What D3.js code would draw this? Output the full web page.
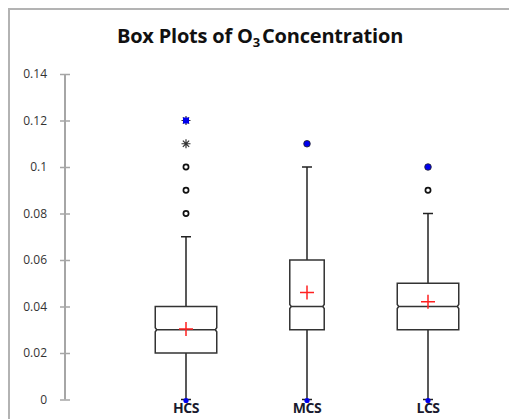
<!DOCTYPE html>
<html>
<head>
<meta charset="utf-8">
<script src="https://cdn.jsdelivr.net/npm/d3@7"></script>
<style>
  body { margin: 0; background: #fff; }
  svg { display: block; }
</style>
</head>
<body>
<script>
// box plot summary values
let categories = ['HCS', 'MCS', 'LCS']
let q1 = [0.02, 0.03, 0.03]
let medians = [0.03, 0.04, 0.04]
let q3 = [0.04, 0.06, 0.05]
let whisk_lo = [0, 0, 0]
let whisk_hi = [0.07, 0.10, 0.08]
let means = [0.0303, 0.046, 0.042]
let mins = [0, 0, 0]
let maxs = [0.12, 0.11, 0.10]
let max_kind = ['star', 'circle', 'circle']
let box_rel_width = [1, 0.56, 1]
// outliers: circles are mild, stars are extreme
let outliers = [
  { cat: 'HCS', value: 0.08, kind: 'circle' },
  { cat: 'HCS', value: 0.09, kind: 'circle' },
  { cat: 'HCS', value: 0.10, kind: 'circle' },
  { cat: 'HCS', value: 0.11, kind: 'star' },
  { cat: 'LCS', value: 0.09, kind: 'circle' },
]
let y_ticks = [0, 0.02, 0.04, 0.06, 0.08, 0.1, 0.12, 0.14]

let width = 509, height = 419

let boxes = categories.map((c, i) => ({
  name: c, q1: q1[i], med: medians[i], q3: q3[i], lo: whisk_lo[i], hi: whisk_hi[i],
  mean: means[i], min: mins[i], max: maxs[i], maxKind: max_kind[i], rel: box_rel_width[i]
}))

const svg = d3.select('body').append('svg')
    .attr('width', width)
    .attr('height', height)

// frame of the chart area (right and bottom lie outside the crop)
svg.append('path')
    .attr('d', 'M9,430V9H520')
    .attr('fill', 'none')
    .attr('stroke', '#b3b3b3')
    .attr('stroke-width', 2)

let x = d3.scaleBand()
    .domain(categories)
    .range([125.5, 488.5])

let y = d3.scaleLinear()
    .domain([0, 0.14])
    .range([399.5, 74])

let full_w = 61.5
let cx = d => x(d) + x.bandwidth() / 2

// title
let title = svg.append('text')
    .attr('x', 260)
    .attr('y', 43)
    .attr('text-anchor', 'middle')
    .style('font-family', '"Open Sans", sans-serif')
    .style('font-weight', 'bold')
    .style('font-size', '20px')
    .style('letter-spacing', '-0.2px')
    .attr('fill', '#111')
title.append('tspan').text('Box Plots of O')
title.append('tspan').text('3').attr('dy', 4).style('font-size', '13px')
title.append('tspan').text('Concentration').attr('dy', -4).attr('dx', 2)

// y axis
let yAxis = g => g
    .attr('transform', 'translate(65,0)')
    .call(d3.axisLeft(y).tickValues(y_ticks).tickSize(5).tickPadding(13)
      .tickFormat(d => d === 0 ? '0' : String(Math.round(d * 100) / 100)))
    .call(g => g.selectAll('.tick line').attr('x2', 5).attr('x1', -5).attr('stroke', '#a6a6a6').attr('stroke-width', 1.5))
    .call(g => g.select('.domain').attr('d', `M0,${y(0)}V${y(0.14)}`).attr('stroke', '#a6a6a6').attr('stroke-width', 2))
    .call(g => g.selectAll('text')
      .style('font-family', '"Open Sans", sans-serif')
      .style('font-size', '12px')
      .attr('fill', '#333'))

svg.append('g').call(yAxis)

// whiskers
let wg = svg.append('g').attr('stroke', '#222').attr('stroke-width', 1.5)
wg.selectAll('line.up').data(boxes).join('line')
    .attr('x1', d => cx(d.name)).attr('x2', d => cx(d.name))
    .attr('y1', d => y(d.q3)).attr('y2', d => y(d.hi))
wg.selectAll('line.dn').data(boxes).join('line')
    .attr('x1', d => cx(d.name)).attr('x2', d => cx(d.name))
    .attr('y1', d => y(d.q1)).attr('y2', d => y(d.lo))
wg.selectAll('line.capu').data(boxes).join('line')
    .attr('x1', d => cx(d.name) - 5).attr('x2', d => cx(d.name) + 5)
    .attr('y1', d => y(d.hi)).attr('y2', d => y(d.hi))
wg.selectAll('line.capd').data(boxes).join('line')
    .attr('x1', d => cx(d.name) - 5).attr('x2', d => cx(d.name) + 5)
    .attr('y1', d => y(d.lo)).attr('y2', d => y(d.lo))

// notched boxes
function boxPath(d) {
  let w = full_w * d.rel, l = cx(d.name) - w / 2, r = l + w
  let t = y(d.q3), b = y(d.q1), m = y(d.med), n = 1.5
  return `M${l},${t}H${r}V${m - 2}L${r - n},${m}L${r},${m + 2}V${b}H${l}V${m + 2}L${l + n},${m}L${l},${m - 2}Z` +
    `M${l + n},${m}H${r - n}`
}
svg.append('g').selectAll('path').data(boxes).join('path')
    .attr('d', boxPath)
    .attr('fill', '#fff')
    .attr('stroke', '#333')
    .attr('stroke-width', 1.5)

// means
let mg = svg.append('g').attr('stroke', '#ff2020').attr('stroke-width', 1.5)
mg.selectAll('path').data(boxes).join('path')
    .attr('d', d => `M${cx(d.name) - 7},${y(d.mean)}H${cx(d.name) + 7}M${cx(d.name)},${y(d.mean) - 7}V${y(d.mean) + 7}`)

function star(px, py, s) {
  return `M${px - s},${py}H${px + s}M${px - s * 0.7},${py - s * 0.7}L${px + s * 0.7},${py + s * 0.7}` +
    `M${px - s * 0.7},${py + s * 0.7}L${px + s * 0.7},${py - s * 0.7}M${px},${py - s}V${py + s}`
}

// outliers
svg.append('g').selectAll('circle').data(outliers.filter(d => d.kind === 'circle')).join('circle')
    .attr('cx', d => cx(d.cat)).attr('cy', d => y(d.value)).attr('r', 2.6)
    .attr('fill', '#fff').attr('stroke', '#111').attr('stroke-width', 1.7)
svg.append('g').selectAll('path').data(outliers.filter(d => d.kind === 'star')).join('path')
    .attr('d', d => star(cx(d.cat), y(d.value), 4.5))
    .attr('stroke', '#333').attr('stroke-width', 1.2)

// max markers (blue)
let mx = svg.append('g')
mx.selectAll('path.s').data(boxes.filter(d => d.maxKind === 'star')).join('path')
    .attr('d', d => star(cx(d.name), y(d.max), 4.5))
    .attr('stroke', '#333').attr('stroke-width', 1.2)
mx.selectAll('rect').data(boxes.filter(d => d.maxKind === 'star')).join('rect')
    .attr('x', d => cx(d.name) - 3).attr('y', d => y(d.max) - 3)
    .attr('width', 6).attr('height', 6).attr('fill', '#0000ee')
mx.selectAll('circle').data(boxes.filter(d => d.maxKind === 'circle')).join('circle')
    .attr('cx', d => cx(d.name)).attr('cy', d => y(d.max)).attr('r', 3.3)
    .attr('fill', '#0000ee').attr('stroke', '#222').attr('stroke-width', 0.8)

// min markers (blue)
svg.append('g').selectAll('circle').data(boxes).join('circle')
    .attr('cx', d => cx(d.name)).attr('cy', d => y(d.min) + 1).attr('r', 2.6)
    .attr('fill', '#0000ee')

// category labels
svg.append('g').selectAll('text').data(categories).join('text')
    .attr('x', d => cx(d))
    .attr('y', 413)
    .attr('text-anchor', 'middle')
    .style('font-family', '"Open Sans", sans-serif')
    .style('font-weight', 'bold')
    .style('font-size', '14px')
    .style('letter-spacing', '-0.5px')
    .attr('fill', '#1a1a2e')
    .text(d => d)
</script>
</body>
</html>
